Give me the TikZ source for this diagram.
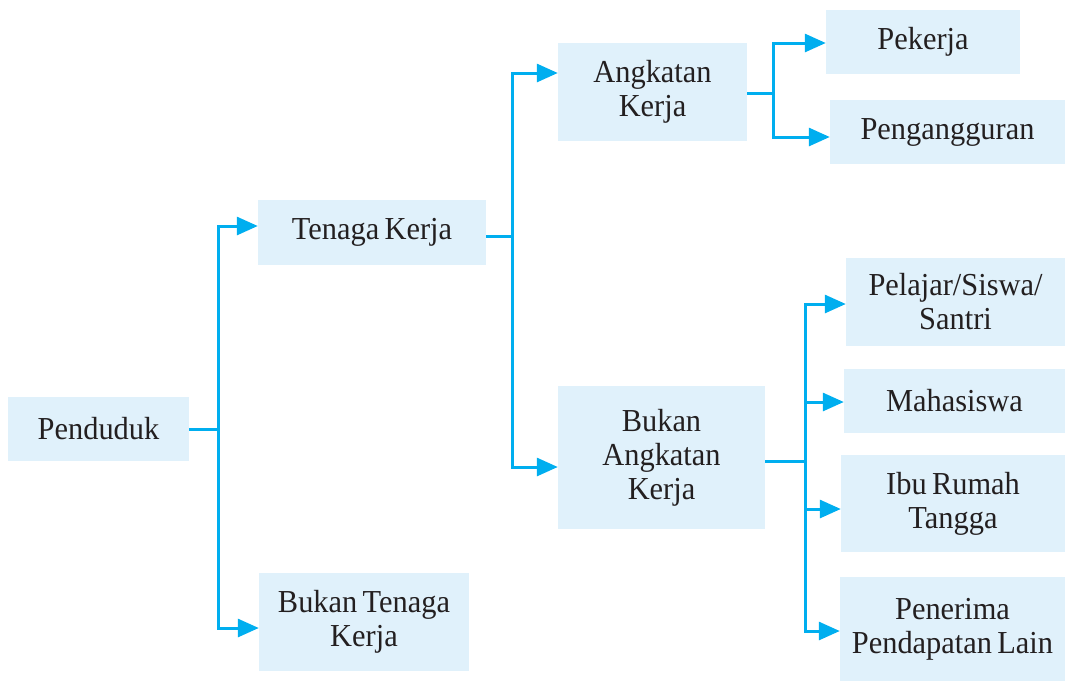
\documentclass[tikz,border=0pt]{standalone}
\usepackage{fontspec}
\setmainfont{Liberation Serif}[FakeStretch=0.95,WordSpace=0.7]
\usetikzlibrary{arrows.meta}
\definecolor{boxfill}{HTML}{E0F1FB}
\definecolor{linec}{HTML}{00AEEF}
\definecolor{txt}{HTML}{231F20}
\begin{document}
\begin{tikzpicture}[x=1pt,y=-1pt,
  box/.style={fill=boxfill,draw=none,inner sep=0pt,align=center,text=txt,
    font=\fontsize{32}{34}\selectfont},
  line/.style={draw=linec,line width=3pt},
  arr/.style={line,-{Triangle[length=21pt,width=18pt]}}]
\useasboundingbox (0,0) rectangle (1065,681);
\node[box,minimum width=181pt,minimum height=64pt] (pend) at (98.5,429) {Penduduk};
\node[box,minimum width=228pt,minimum height=65pt] (tk) at (372,232) {Tenaga Kerja};
\node[box,minimum width=210pt,minimum height=98pt] (btk) at (364,622) {Bukan Tenaga\\Kerja};
\node[box,minimum width=189pt,minimum height=98pt] (ak) at (652.5,92) {Angkatan\\Kerja};
\node[box,minimum width=207pt,minimum height=143pt] (bak) at (661.5,457.5) {Bukan\\Angkatan\\Kerja};
\node[box,minimum width=194pt,minimum height=64pt] (pek) at (923,42) {Pekerja};
\node[box,minimum width=235pt,minimum height=64pt] (peng) at (947.5,132) {Pengangguran};
\node[box,minimum width=219pt,minimum height=88pt] (pel) at (955.5,302) {Pelajar/Siswa/\\Santri};
\node[box,minimum width=221pt,minimum height=64pt] (mah) at (954.5,401) {Mahasiswa};
\node[box,minimum width=224pt,minimum height=97pt] (ibu) at (953,503.5) {Ibu Rumah\\Tangga};
\node[box,minimum width=225pt,minimum height=104pt] (pen) at (952.5,629) {Penerima\\Pendapatan Lain};
% junctions
\coordinate (j1) at (218,429);
\coordinate (j2) at (512,236);
\coordinate (j3) at (773,93);
\coordinate (j4) at (805,461);
\draw[line] (pend.east) -- (j1);
\draw[arr] (j1) |- ([yshift=6pt]tk.west);
\draw[arr] (j1) |- ([yshift=-6pt]btk.west);
\draw[line] ([yshift=-4pt]tk.east) -- (j2);
\draw[arr] (j2) |- ([yshift=19pt]ak.west);
\draw[arr] (j2) |- ([yshift=-9.5pt]bak.west);
\draw[line] (ak.east |- j3) -- (j3);
\draw[arr] (j3) |- ([yshift=-1pt]pek.west);
\draw[arr] (j3) |- ([yshift=-5pt]peng.west);
\draw[line] (bak.east |- j4) -- (j4);
\draw[arr] (j4) |- ([yshift=-2pt]pel.west);
\draw[arr] (j4) |- ([yshift=-1pt]mah.west);
\draw[arr] (j4) |- ([yshift=-5.5pt]ibu.west);
\draw[arr] (j4) |- ([yshift=-2pt]pen.west);
\end{tikzpicture}
\end{document}
